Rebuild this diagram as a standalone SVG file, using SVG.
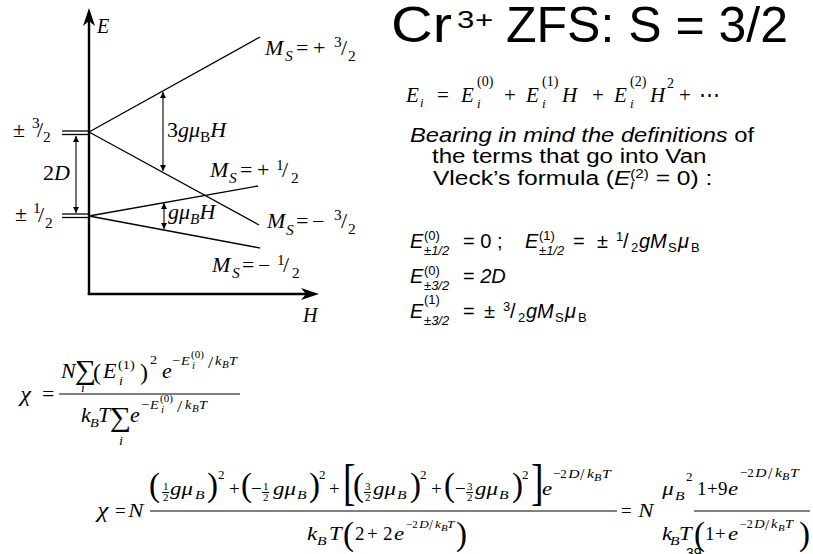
<svg xmlns="http://www.w3.org/2000/svg" width="813" height="554" viewBox="0 0 813 554">
<style>
text{fill:#000}
.s{font-family:"Liberation Serif","Times New Roman",serif}
.i{font-family:"Liberation Serif","Times New Roman",serif;font-style:italic}
.a{font-family:"Liberation Sans",Arial,sans-serif}
.ai{font-family:"Liberation Sans",Arial,sans-serif;font-style:italic}
.ax{stroke:#000;stroke-width:2.4;fill:none}
.ln{stroke:#000;stroke-width:1.3;fill:none}
.dim{stroke:#000;stroke-width:1.1;fill:none;marker-start:url(#ah);marker-end:url(#ah)}
.bar{stroke:#000;stroke-width:1}
.w1 text:not(.n){transform-box:fill-box;transform-origin:0 0;transform:scaleX(1.1)}
.w2 text.i{transform-box:fill-box;transform-origin:0 0;transform:scaleX(1.2)}
</style>
<defs>
<marker id="ah" viewBox="0 0 10 10" refX="10" refY="5" markerWidth="7" markerHeight="6" markerUnits="userSpaceOnUse" orient="auto-start-reverse">
<path d="M0,0 L10,5 L0,10 z" fill="#000"/>
</marker>
</defs>
<rect width="813" height="554" fill="#fff"/>

<!-- Energy level diagram -->
<g id="axes">
<line class="ax" x1="89" y1="295" x2="89" y2="18"/>
<polygon points="89,8 95,26 89,21 83,26"/>
<line class="ax" x1="87.8" y1="294" x2="308" y2="294"/>
<polygon points="319,294 301,288 306,294 301,300"/>
<text class="i" x="97" y="33" font-size="20">E</text>
<text class="i" x="303" y="322" font-size="20">H</text>
</g>
<g id="levels" class="ln">
<line x1="62" y1="131" x2="89" y2="131"/><line x1="62" y1="134.5" x2="89" y2="134.5"/>
<line x1="62" y1="214" x2="89" y2="214"/><line x1="62" y1="217.5" x2="89" y2="217.5"/>
<line x1="89" y1="132" x2="260" y2="37"/>
<line x1="89" y1="132" x2="259" y2="225"/>
<line x1="89" y1="216" x2="258" y2="186"/>
<line x1="89" y1="216" x2="260" y2="248"/>
</g>
<g id="splittings">
<line class="dim" x1="76" y1="136" x2="76" y2="213"/>
<line class="dim" x1="163" y1="92" x2="163" y2="171"/>
<line class="dim" x1="164" y1="203" x2="164" y2="229"/>
</g>
<g id="level-labels" class="w1" font-size="20">
<text class="s" x="13" y="137">±</text>
<text class="s" x="32" y="128" font-size="14">3</text>
<text class="s" x="37" y="137">/</text>
<text class="s" x="43" y="142" font-size="14">2</text>
<text class="s" x="15" y="221">±</text>
<text class="s" x="33" y="213" font-size="14">1</text>
<text class="s" x="38" y="222">/</text>
<text class="s" x="45" y="228" font-size="14">2</text>
<text class="s" x="43" y="180">2<tspan class="i">D</tspan></text>
<text class="s" x="167" y="137">3<tspan class="i">gμ</tspan><tspan font-size="14" dy="5">B</tspan><tspan class="i" dy="-5">H</tspan></text>
<text class="i" x="168" y="219">gμ<tspan class="s" font-size="14" dy="5">B</tspan><tspan dy="-5">H</tspan></text>
</g>
<g id="ms-labels" class="w1" font-size="20">
<text class="i" x="265" y="55">M</text><text class="i" x="285" y="61" font-size="14">S</text>
<text class="s" x="296" y="55">=</text><text class="s" x="313" y="55">+</text>
<text class="s" x="334" y="47" font-size="14">3</text><text class="s" x="341" y="55">/</text><text class="s" x="348" y="61" font-size="14">2</text>

<text class="i" x="210" y="177">M</text><text class="i" x="229" y="183" font-size="14">S</text>
<text class="s" x="240" y="177">=</text><text class="s" x="257" y="177">+</text>
<text class="s" x="276" y="170" font-size="14">1</text><text class="s" x="282" y="177">/</text><text class="s" x="291" y="183" font-size="14">2</text>

<text class="i" x="267" y="228">M</text><text class="i" x="286" y="235" font-size="14">S</text>
<text class="s" x="296" y="228">=</text><text class="s" x="312" y="228">−</text>
<text class="s" x="334" y="220" font-size="14">3</text><text class="s" x="341" y="228">/</text><text class="s" x="348" y="234" font-size="14">2</text>

<text class="i" x="212" y="272">M</text><text class="i" x="232" y="278" font-size="14">S</text>
<text class="s" x="242" y="272">=</text><text class="s" x="258" y="272">−</text>
<text class="s" x="277" y="265" font-size="14">1</text><text class="s" x="283" y="272">/</text><text class="s" x="292" y="278" font-size="14">2</text>
</g>

<!-- Title -->
<g id="title" class="a">
<text x="391" y="42" font-size="50" textLength="61" lengthAdjust="spacingAndGlyphs">Cr</text>
<text x="457" y="28" font-size="24" style="transform-box:fill-box;transform-origin:0 0;transform:scaleX(1.3)">3</text>
<text x="475" y="28" font-size="24" style="transform-box:fill-box;transform-origin:0 0;transform:scaleX(1.3)">+</text>
<text x="506" y="42" font-size="50">ZFS: S = 3/2</text>
</g>

<!-- Energy expansion -->
<g id="expansion" font-size="21">
<text class="i" x="406" y="102">E</text><text class="i" x="420" y="107" font-size="13">i</text>
<text class="s" x="437" y="102">=</text>
<text class="i" x="461" y="102">E</text><text class="s" x="477" y="86" font-size="14">(0)</text><text class="i" x="477" y="108" font-size="13">i</text>
<text class="s" x="504" y="102">+</text>
<text class="i" x="526" y="102">E</text><text class="s" x="542" y="86" font-size="14">(1)</text><text class="i" x="542" y="108" font-size="13">i</text>
<text class="i" x="562" y="102">H</text>
<text class="s" x="592" y="102">+</text>
<text class="i" x="614" y="102">E</text><text class="s" x="630" y="86" font-size="14">(2)</text><text class="i" x="630" y="108" font-size="13">i</text>
<text class="i" x="650" y="102">H</text><text class="s" x="667" y="88" font-size="14">2</text>
<text class="s" x="679" y="102">+</text>
<text class="s" x="699" y="102">⋯</text>
</g>

<!-- Explanation -->
<g id="explanation" class="a w1" font-size="21">
<text x="410" y="142" style="transform:scaleX(1.13)"><tspan font-style="italic">Bearing in mind the definitions</tspan> of</text>
<text x="432" y="163" style="transform:scaleX(1.15)">the terms that go into Van</text>
<text x="433" y="185" style="transform:scaleX(1.17)">Vleck’s formula (<tspan font-style="italic">E</tspan><tspan font-style="italic" font-size="13" dy="4">i</tspan><tspan font-size="13" dx="-3" dy="-11">(2)</tspan><tspan dy="7"> = 0) :</tspan></text>
</g>

<!-- Definitions -->
<g id="definitions" class="a" font-size="20">
<text class="ai" x="410" y="248">E</text><text x="424" y="240" font-size="13">(0)</text><text class="ai" x="424" y="255" font-size="13">±1/2</text>
<text x="463" y="248">= 0  ;</text>
<text class="ai" x="525" y="248">E</text><text x="539" y="240" font-size="13">(1)</text><text class="ai" x="539" y="255" font-size="13">±1/2</text>
<text x="573" y="248">=</text><text x="597" y="248">±</text>
<text x="616" y="241" font-size="13">1</text><text x="623" y="248">/</text><text x="631" y="252" font-size="13">2</text>
<text class="ai" x="639" y="248">gM</text><text x="668" y="252" font-size="13">S</text><text class="ai" x="678" y="248">μ</text><text x="691" y="252" font-size="13">B</text>

<text class="ai" x="410" y="283">E</text><text x="424" y="275" font-size="13">(0)</text><text class="ai" x="424" y="290" font-size="13">±3/2</text>
<text x="463" y="283">= <tspan font-style="italic">2D</tspan></text>

<text class="ai" x="410" y="318">E</text><text x="424" y="304" font-size="13">(1)</text><text class="ai" x="424" y="325" font-size="13">±3/2</text>
<text x="463" y="318">=</text><text x="484" y="318">±</text>
<text x="503" y="311" font-size="13">3</text><text x="510" y="318">/</text><text x="518" y="322" font-size="13">2</text>
<text class="ai" x="526" y="318">gM</text><text x="555" y="322" font-size="13">S</text><text class="ai" x="565" y="318">μ</text><text x="578" y="322" font-size="13">B</text>
</g>

<!-- Van Vleck formula -->
<g id="vanvleck" class="w1" font-size="20">
<text class="i" x="20" y="401" font-size="22">χ</text>
<text class="s" x="42" y="401">=</text>
<line class="bar" x1="59" y1="394" x2="240" y2="394"/>
<text class="i" x="61" y="378">N</text>
<text class="s" x="75" y="379" font-size="27">∑</text>
<text class="i" x="81" y="392" font-size="12">i</text>
<text class="s n" x="93" y="380" font-size="24">(</text>
<text class="i" x="103" y="378">E</text><text class="s" x="118" y="369" font-size="13">(1)</text><text class="i" x="119" y="385" font-size="13">i</text>
<text class="s n" x="140" y="380" font-size="24">)</text>
<text class="s" x="150" y="364" font-size="13">2</text>
<text class="i" x="162" y="378">e</text>
<text class="s" x="172" y="365" font-size="13">−</text><text class="i" x="181" y="365" font-size="13">E</text>
<text class="s" x="191" y="358" font-size="10">(0)</text><text class="i" x="192" y="369" font-size="10">i</text>
<text class="s" x="208" y="368" font-size="17">/</text>
<text class="i" x="215" y="365" font-size="13">k</text><text class="i" x="222" y="368" font-size="10">B</text><text class="i" x="229" y="365" font-size="13">T</text>

<text class="i" x="81" y="422">k</text><text class="i" x="90" y="427" font-size="13">B</text><text class="i" x="98" y="422">T</text>
<text class="s" x="110" y="426" font-size="27">∑</text>
<text class="i" x="119" y="445" font-size="13">i</text>
<text class="i" x="130" y="422">e</text>
<text class="s" x="141" y="409" font-size="13">−</text><text class="i" x="150" y="409" font-size="13">E</text>
<text class="s" x="160" y="402" font-size="10">(0)</text><text class="i" x="161" y="413" font-size="10">i</text>
<text class="s" x="177" y="412" font-size="17">/</text>
<text class="i" x="185" y="409" font-size="13">k</text><text class="i" x="192" y="412" font-size="10">B</text><text class="i" x="199" y="409" font-size="13">T</text>
</g>

<!-- Cr3+ susceptibility -->
<g id="chi" class="w2" font-size="19">
<text class="i" x="97" y="517" font-size="21">χ</text>
<text class="s" x="115" y="517">=</text>
<text class="i" x="128" y="517">N</text>
<line class="bar" x1="150" y1="511" x2="617" y2="511"/>
<!-- numerator -->
<text class="s" x="149" y="496" font-size="33">(</text>
<text class="s" x="163" y="490" font-size="11">1</text><line class="bar" x1="162" y1="492.5" x2="169" y2="492.5"/><text class="s" x="163" y="501" font-size="11">2</text>
<text class="i" x="170" y="495">gμ</text><text class="i" x="195" y="499" font-size="13">B</text>
<text class="s" x="207" y="496" font-size="33">)</text><text class="s" x="218" y="479" font-size="13">2</text>
<text class="s" x="229" y="495">+</text>
<text class="s" x="241" y="496" font-size="33">(</text>
<text class="s" x="251" y="495">−</text>
<text class="s" x="263" y="490" font-size="11">1</text><line class="bar" x1="262" y1="492.5" x2="269" y2="492.5"/><text class="s" x="263" y="501" font-size="11">2</text>
<text class="i" x="273" y="495">gμ</text><text class="i" x="297" y="499" font-size="13">B</text>
<text class="s" x="309" y="496" font-size="33">)</text><text class="s" x="319" y="479" font-size="13">2</text>
<text class="s" x="329" y="495">+</text>
<text class="s" transform="translate(343 499) scale(0.75 1)" font-size="50">[</text>
<text class="s" x="353" y="496" font-size="33">(</text>
<text class="s" x="365" y="490" font-size="11">3</text><line class="bar" x1="364" y1="492.5" x2="371" y2="492.5"/><text class="s" x="365" y="501" font-size="11">2</text>
<text class="i" x="373" y="495">gμ</text><text class="i" x="397" y="499" font-size="13">B</text>
<text class="s" x="410" y="496" font-size="33">)</text><text class="s" x="420" y="479" font-size="13">2</text>
<text class="s" x="431" y="495">+</text>
<text class="s" x="444" y="496" font-size="33">(</text>
<text class="s" x="455" y="495">−</text>
<text class="s" x="467" y="490" font-size="11">3</text><line class="bar" x1="466" y1="492.5" x2="473" y2="492.5"/><text class="s" x="467" y="501" font-size="11">2</text>
<text class="i" x="475" y="495">gμ</text><text class="i" x="499" y="499" font-size="13">B</text>
<text class="s" x="512" y="496" font-size="33">)</text><text class="s" x="522" y="479" font-size="13">2</text>
<text class="s" transform="translate(531 499) scale(0.75 1)" font-size="50">]</text>
<text class="i" x="542" y="495">e</text>
<text class="s" x="553" y="478" font-size="13">−2</text><text class="i" x="568" y="478" font-size="13">D</text><text class="s" x="580" y="480" font-size="16">/</text>
<text class="i" x="587" y="478" font-size="13">k</text><text class="i" x="594" y="481" font-size="10">B</text><text class="i" x="602" y="478" font-size="13">T</text>
<!-- denominator -->
<text class="i" x="307" y="540">k</text><text class="i" x="317" y="545" font-size="13">B</text><text class="i" x="329" y="540">T</text>
<text class="s" x="343" y="545" font-size="33">(</text>
<text class="s" x="355" y="540">2</text><text class="s" x="367" y="540">+</text><text class="s" x="383" y="540">2</text><text class="i" x="394" y="540">e</text>
<text class="s" x="406" y="528" font-size="11">−2</text><text class="i" x="419" y="528" font-size="11">D</text><text class="s" x="429" y="530" font-size="14">/</text>
<text class="i" x="435" y="528" font-size="11">k</text><text class="i" x="441" y="531" font-size="9">B</text><text class="i" x="447" y="528" font-size="11">T</text>
<text class="s" x="456" y="545" font-size="33">)</text>
<!-- result -->
<text class="s" x="621" y="517">=</text>
<text class="i" x="638" y="517">N</text>
<text class="i" x="662" y="495">μ</text><text class="i" x="675" y="500" font-size="13">B</text><text class="s" x="686" y="481" font-size="13">2</text>
<text class="i" x="662" y="540">k</text><text class="i" x="670" y="545" font-size="13">B</text><text class="i" x="679" y="540">T</text>
<line class="bar" x1="694" y1="511" x2="810" y2="511"/>
<text class="s" x="697" y="495">1</text><text class="s" x="707" y="495">+</text><text class="s" x="718" y="495">9</text><text class="i" x="728" y="495">e</text>
<text class="s" x="740" y="477" font-size="13">−2</text><text class="i" x="755" y="477" font-size="13">D</text><text class="s" x="768" y="479" font-size="16">/</text>
<text class="i" x="775" y="477" font-size="13">k</text><text class="i" x="782" y="480" font-size="10">B</text><text class="i" x="790" y="477" font-size="13">T</text>
<text class="s" x="694" y="545" font-size="33">(</text>
<text class="s" x="705" y="540">1</text><text class="s" x="715" y="540">+</text><text class="i" x="728" y="540">e</text>
<text class="s" x="740" y="528" font-size="12">−2</text><text class="i" x="754" y="528" font-size="12">D</text><text class="s" x="765" y="530" font-size="15">/</text>
<text class="i" x="771" y="528" font-size="12">k</text><text class="i" x="778" y="531" font-size="9">B</text><text class="i" x="785" y="528" font-size="12">T</text>
<text class="s" x="799" y="545" font-size="33">)</text>
</g>
<text class="a" x="686" y="558" font-size="14">39</text>
</svg>
